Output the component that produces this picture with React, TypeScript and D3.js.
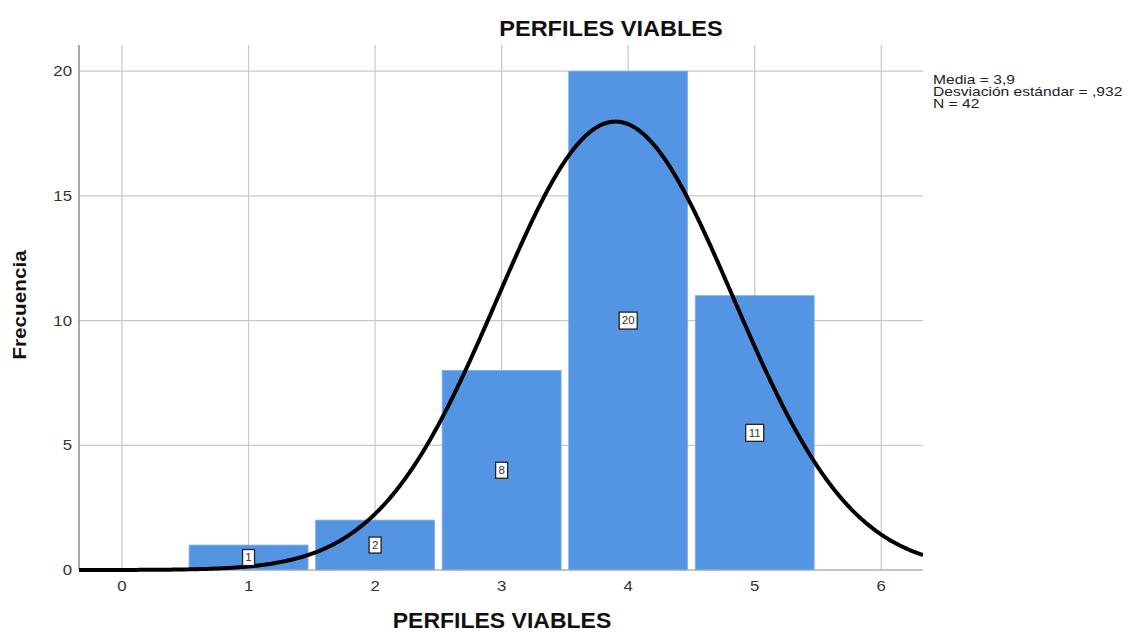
import React from "react";
import * as d3 from "d3";

const categories = [1, 2, 3, 4, 5];
const frequencies = [1, 2, 8, 20, 11];
const xTicks = [0, 1, 2, 3, 4, 5, 6];
const yTicks = [0, 5, 10, 15, 20];
const meanValue = 3.9;
const sdValue = 0.932;
const nValue = 42;
const statLines = ["Media = 3,9", "Desviación estándar = ,932", "N = 42"];
const chartTitle = "PERFILES VIABLES";
const xTitle = "PERFILES VIABLES";
const yTitle = "Frecuencia";

const W = 1129;
const H = 632;
const left = 79;
const right = 923;
const top = 45;
const bottom = 570;
const font = "'Liberation Sans', Arial, sans-serif";

function SText(props: {
  x: number;
  y: number;
  sx: number;
  size: number;
  anchor?: string;
  bold?: boolean;
  fill?: string;
  rotate?: number;
  children: React.ReactNode;
}) {
  const { x, y, sx, size, anchor = "start", bold, fill = "#222", rotate = 0, children } = props;
  return (
    <g transform={`translate(${x},${y}) rotate(${rotate}) scale(${sx},1)`}>
      <text
        x={0}
        y={0}
        textAnchor={anchor}
        fontFamily={font}
        fontSize={size}
        fontWeight={bold ? "bold" : "normal"}
        fill={fill}
      >
        {children}
      </text>
    </g>
  );
}

export default function App() {
  const x = d3.scaleLinear().domain([-0.34, 6.33]).range([left, right]);
  const y = d3.scaleLinear().domain([0, 21.05]).range([bottom, top]);
  const barHalf = 0.47;

  const pdf = (v: number) =>
    (nValue / (sdValue * Math.sqrt(2 * Math.PI))) *
    Math.exp(-0.5 * ((v - meanValue) / sdValue) ** 2);
  const curvePts = d3.range(-0.34, 6.331, 0.01).map((v) => [v, pdf(v)] as [number, number]);
  const line = d3
    .line<[number, number]>()
    .x((d) => x(d[0]))
    .y((d) => y(d[1]))
    .curve(d3.curveBasis);

  return (
    <svg width={W} height={H} style={{ position: "absolute", left: 0, top: 0, background: "#fff" }}>
      <defs>
        <clipPath id="plot">
          <rect x={left} y={top - 2} width={right - left} height={bottom - top + 4} />
        </clipPath>
      </defs>
      {xTicks.map((t) => (
        <line key={"gx" + t} x1={x(t)} x2={x(t)} y1={top} y2={bottom} stroke="#c8c8c8" strokeWidth={1.2} />
      ))}
      {yTicks.map((t) => (
        <line key={"gy" + t} x1={left} x2={right} y1={y(t)} y2={y(t)} stroke="#c8c8c8" strokeWidth={1.2} />
      ))}
      {categories.map((c, i) => (
        <rect
          key={"b" + c}
          x={x(c - barHalf)}
          y={y(frequencies[i])}
          width={x(c + barHalf) - x(c - barHalf)}
          height={y(0) - y(frequencies[i])}
          fill="#5394e3"
          stroke="#7eb0ee"
          strokeWidth={0.8}
        />
      ))}
      <line x1={left} x2={left} y1={top} y2={bottom} stroke="#8c8c8c" strokeWidth={1.5} />
      <line x1={left} x2={right} y1={bottom} y2={bottom} stroke="#a8a8a8" strokeWidth={1.2} />
      <path d={line(curvePts) || ""} fill="none" stroke="#000" strokeWidth={4} clipPath="url(#plot)" />
      {categories.map((c, i) => {
        const txt = String(frequencies[i]);
        const w = txt.length > 1 ? 18 : 12;
        const h = txt.length > 1 ? 17 : 16;
        const cx = x(c);
        const cy = y(frequencies[i] / 2);
        return (
          <g key={"l" + c}>
            <rect x={cx - w / 2} y={cy - h / 2} width={w} height={h} fill="#fff" stroke="#222" strokeWidth={1.3} />
            <SText x={cx} y={cy + 3.8} sx={1.1} size={10.5} anchor="middle" fill="#333">
              {txt}
            </SText>
          </g>
        );
      })}
      {yTicks.map((t) => (
        <SText key={"ty" + t} x={left - 7} y={y(t) + 5} sx={1.2} size={14} anchor="end" fill="#333">
          {t}
        </SText>
      ))}
      {xTicks.map((t) => (
        <SText key={"tx" + t} x={x(t)} y={bottom + 21} sx={1.2} size={14} anchor="middle" fill="#333">
          {t}
        </SText>
      ))}
      <SText x={611} y={36} sx={1.07} size={22} anchor="middle" bold fill="#111">
        {chartTitle}
      </SText>
      <SText x={502} y={628} sx={1.07} size={21.5} anchor="middle" bold fill="#111">
        {xTitle}
      </SText>
      <SText x={26} y={305} sx={1.12} size={18.5} rotate={-90} anchor="middle" bold fill="#111">
        {yTitle}
      </SText>
      {statLines.map((s, i) => (
        <SText key={"s" + i} x={933} y={84 + i * 12} sx={1.3} size={12} fill="#222">
          {s}
        </SText>
      ))}
    </svg>
  );
}
